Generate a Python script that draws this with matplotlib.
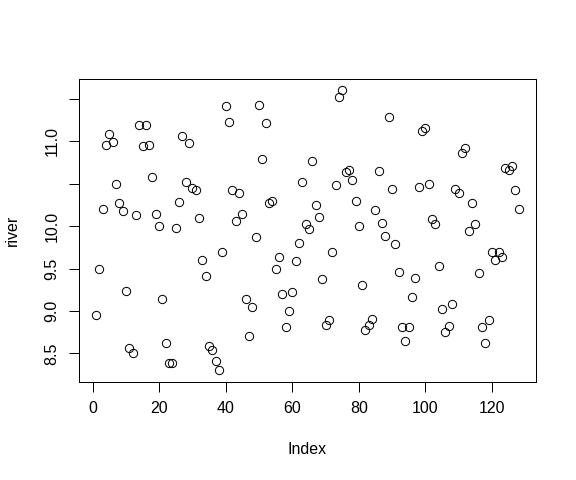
import matplotlib
matplotlib.use('Agg')
import matplotlib.pyplot as plt
import numpy as np

plt.rcParams['font.family'] = ['Liberation Sans', 'DejaVu Sans']

# river values in index order
river = [8.95, 9.50, 10.20, 10.96, 11.08, 10.99, 10.50, 10.27, 10.18, 9.24,
         8.56, 8.51, 10.13, 11.19, 10.94, 11.19, 10.96, 10.58, 10.14, 10.00,
         9.14, 8.62, 8.39, 8.39, 9.98, 10.28, 11.06, 10.52, 10.98, 10.45,
         10.42, 10.09, 9.60, 9.41, 8.59, 8.54, 8.41, 8.30, 9.70, 11.41,
         11.22, 10.42, 10.06, 10.39, 10.14, 9.14, 8.70, 9.05, 9.87, 11.42,
         10.79, 11.21, 10.27, 10.30, 9.50, 9.64, 9.20, 8.81, 9.00, 9.22,
         9.59, 9.80, 10.52, 10.03, 9.97, 10.77, 10.25, 10.11, 9.38, 8.84,
         8.89, 9.70, 10.48, 11.52, 11.60, 10.64, 10.66, 10.54, 10.30, 10.00,
         9.30, 8.78, 8.84, 8.91, 10.19, 10.65, 10.04, 9.88, 11.28, 10.44,
         9.79, 9.46, 8.81, 8.65, 8.81, 9.17, 9.39, 10.46, 11.12, 11.16,
         10.50, 10.08, 10.03, 9.53, 9.02, 8.75, 8.82, 9.08, 10.44, 10.39,
         10.86, 10.92, 9.94, 10.27, 10.03, 9.45, 8.81, 8.62, 8.89, 9.70,
         9.60, 9.70, 9.64, 10.68, 10.66, 10.71, 10.42, 10.20]

x_ticks = [0, 20, 40, 60, 80, 100, 120]
y_ticks = [8.5, 9.0, 9.5, 10.0, 10.5, 11.0, 11.5]
y_labels = ['8.5', '9.0', '9.5', '10.0', '', '11.0', '']

index = np.arange(1, len(river) + 1)

fig = plt.figure(figsize=(6, 5), dpi=96)
ax = fig.add_axes([79 / 576, 1 - 381.6 / 480, 456.5 / 576, 302.6 / 480])

ax.plot(index, river, linestyle='none', marker='o', markersize=6.2,
        markerfacecolor='none', markeredgecolor='black', markeredgewidth=0.75)

# R style 4% padding
xr = index.max() - index.min()
ax.set_xlim(index.min() - 0.04 * xr, index.max() + 0.04 * xr)
yr = max(river) - min(river)
ax.set_ylim(min(river) - 0.04 * yr, max(river) + 0.04 * yr)

ax.set_xticks(x_ticks)
ax.set_yticks(y_ticks)
ax.set_yticklabels(y_labels, rotation=90, va='center')
ax.tick_params(length=7.2, width=0.75, labelsize=12, pad=7.5, color='black')

for s in ax.spines.values():
    s.set_linewidth(0.75)
    s.set_color('black')

fig.text(307 / 576, 1 - 449 / 480, 'Index', ha='center', va='center', fontsize=12)
fig.text(12 / 576, 1 - 230 / 480, 'river', ha='center', va='center',
         rotation=90, fontsize=12)

plt.savefig('out.png', dpi=96)
